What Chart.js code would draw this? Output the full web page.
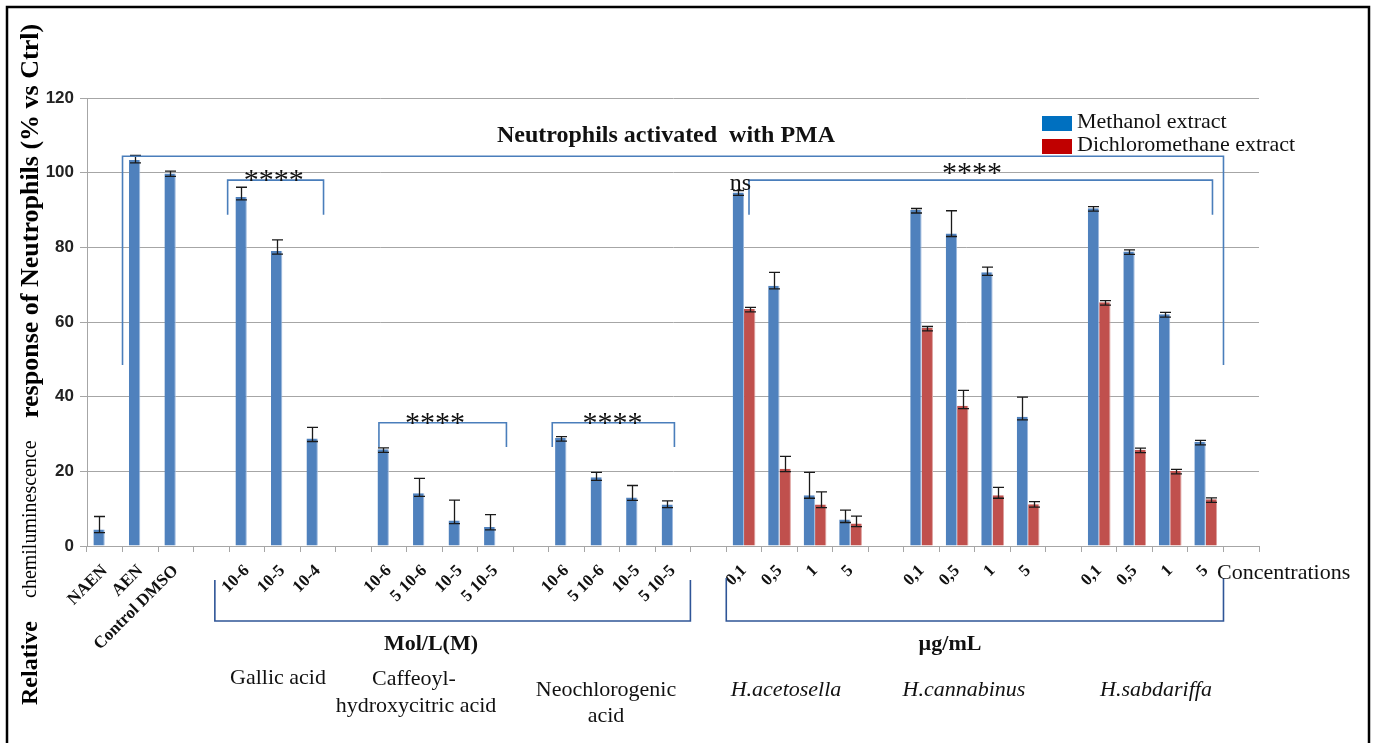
<!DOCTYPE html>
<html>
<head>
<meta charset="utf-8">
<script src="https://cdn.jsdelivr.net/npm/chart.js@4.4.1/dist/chart.umd.min.js"></script>
<style>
  html, body { margin: 0; padding: 0; background: #ffffff; }
  canvas { display: block; }
</style>
</head>
<body>
<canvas id="c" width="1378" height="743"></canvas>
<script>
// ---- Data ----
const categories = [
  'NAEN', 'AEN', 'Control DMSO', '',
  '10-6', '10-5', '10-4', '',
  '10-6', '5 10-6', '10-5', '5 10-5', '',
  '10-6', '5 10-6', '10-5', '5 10-5', '',
  '0,1', '0,5', '1', '5', '',
  '0,1', '0,5', '1', '5', '',
  '0,1', '0,5', '1', '5', ''
];
const methanol = [
  4.4, 103.4, 99.8, null,
  93.5, 79.0, 28.8, null,
  25.9, 14.1, 6.8, 5.1, null,
  28.9, 18.4, 13.0, 11.1, null,
  94.7, 69.7, 13.6, 7.1, null,
  90.0, 83.7, 73.3, 34.6, null,
  90.5, 78.9, 62.1, 27.9, null
];
const methanolErr = [
  3.5, 1.2, 0.6, null,
  2.6, 3.0, 3.0, null,
  0.4, 4.0, 5.5, 3.3, null,
  0.4, 1.3, 3.2, 1.0, null,
  0.5, 3.6, 6.1, 2.5, null,
  0.4, 6.1, 1.4, 5.3, null,
  0.4, 0.4, 0.5, 0.4, null
];
const dichloro = [
  null, null, null, null,
  null, null, null, null,
  null, null, null, null, null,
  null, null, null, null, null,
  63.5, 20.7, 11.1, 6.0, null,
  58.4, 37.6, 13.6, 11.2, null,
  65.3, 25.8, 20.1, 12.5, null
];
const dichloroErr = [
  null, null, null, null,
  null, null, null, null,
  null, null, null, null, null,
  null, null, null, null, null,
  0.4, 3.3, 3.4, 2.0, null,
  0.4, 4.1, 2.1, 0.7, null,
  0.4, 0.4, 0.4, 0.4, null
];
const seriesNames = ['Methanol extract', 'Dichloromethane extract'];
const yMin = 0, yMax = 120, yStep = 20;

// ---- Plugins ----
const serif = '"Liberation Serif", "Times New Roman", serif';

const errorBars = {
  id: 'errorBars',
  afterDatasetsDraw(chart) {
    const ctx = chart.ctx;
    const ys = chart.scales.y;
    const errs = [methanolErr, dichloroErr];
    ctx.save();
    ctx.strokeStyle = '#1a1a1a';
    ctx.lineWidth = 1.3;
    chart.data.datasets.forEach((ds, d) => {
      const meta = chart.getDatasetMeta(d);
      meta.data.forEach((el, i) => {
        const v = ds.data[i];
        const e = errs[d][i];
        if (v == null || e == null) return;
        const x = Math.round(el.x) + 0.5;
        const yv = ys.getPixelForValue(v);
        const yt = ys.getPixelForValue(v + e);
        const yb = yv + 3;
        const hw = 5.5;
        ctx.beginPath();
        ctx.moveTo(x, yb); ctx.lineTo(x, yt);
        ctx.moveTo(x - hw, yt); ctx.lineTo(x + hw, yt);
        ctx.moveTo(x - hw, yb); ctx.lineTo(x + hw, yb);
        ctx.stroke();
      });
    });
    ctx.restore();
  }
};

const annotations = {
  id: 'annotations',
  afterDraw(chart) {
    const ctx = chart.ctx;
    const xs = chart.scales.x, ys = chart.scales.y;
    const X = i => xs.getPixelForValue(i);
    const Y = v => ys.getPixelForValue(v);
    ctx.save();

    const bracket = (i0, i1, vTop, vL, vR) => {
      ctx.beginPath();
      ctx.moveTo(X(i0), Y(vL));
      ctx.lineTo(X(i0), Y(vTop));
      ctx.lineTo(X(i1), Y(vTop));
      ctx.lineTo(X(i1), Y(vR));
      ctx.stroke();
    };
    ctx.strokeStyle = '#4A7EBB';
    ctx.lineWidth = 1.6;
    bracket(0.5, 31.5, 104.4, 48.5, 48.5);
    bracket(3.46, 6.16, 98.0, 88.7, 88.7);
    bracket(7.72, 11.31, 33.0, 26.5, 26.5);
    bracket(12.6, 16.04, 33.0, 26.5, 26.5);
    bracket(18.14, 31.19, 98.0, 88.7, 88.7);

    // stars
    ctx.fillStyle = '#111';
    ctx.font = '30px ' + serif;
    ctx.textAlign = 'center';
    ctx.textBaseline = 'alphabetic';
    const stars = (i, v) => ctx.fillText('****', X(i), Y(v) + 9);
    stars(4.76, 98.0);
    stars(9.3, 33.0);
    stars(14.3, 33.0);
    stars(24.42, 100.0);
    ctx.font = '24px ' + serif;
    ctx.textAlign = 'right';
    ctx.fillText('ns', X(18.14) + 2, Y(95.4));

    // chart title
    ctx.font = 'bold 24px ' + serif;
    ctx.textAlign = 'center';
    ctx.textBaseline = 'middle';
    ctx.fillText('Neutrophils activated  with PMA', 666, 136);

    // legend
    const legendColors = ['#0070C0', '#C00000'];
    ctx.font = '22px ' + serif;
    ctx.textAlign = 'left';
    seriesNames.forEach((n, k) => {
      const y0 = 116 + k * 23;
      ctx.fillStyle = legendColors[k];
      ctx.fillRect(1042, y0, 30, 15);
      ctx.fillStyle = '#111';
      ctx.fillText(n, 1077, y0 + 6);
    });

    // lower brackets (below the axis)
    ctx.strokeStyle = '#2F5597';
    ctx.lineWidth = 1.6;
    const low = (i0, i1, yTop, yBot) => {
      ctx.beginPath();
      ctx.moveTo(X(i0), yTop);
      ctx.lineTo(X(i0), yBot);
      ctx.lineTo(X(i1), yBot);
      ctx.lineTo(X(i1), yTop);
      ctx.stroke();
    };
    low(3.1, 16.49, 580, 621);
    low(17.5, 31.5, 578, 621);

    ctx.fillStyle = '#111';
    ctx.textAlign = 'center';
    ctx.font = 'bold 22px ' + serif;
    ctx.fillText('Mol/L(M)', 431, 644);
    ctx.fillText('\u00B5g/mL', 950, 644);

    ctx.font = '22px ' + serif;
    ctx.fillText('Gallic acid', 278, 678);
    ctx.fillText('Caffeoyl-', 414, 679);
    ctx.fillText('hydroxycitric acid', 416, 706);
    ctx.fillText('Neochlorogenic', 606, 690);
    ctx.fillText('acid', 606, 716);
    ctx.font = 'italic 22px ' + serif;
    ctx.fillText('H.acetosella', 786, 690);
    ctx.fillText('H.cannabinus', 964, 690);
    ctx.fillText('H.sabdariffa', 1156, 690);

    ctx.font = '22px ' + serif;
    ctx.textAlign = 'left';
    ctx.fillText('Concentrations', 1217, 573);

    // y axis title (rotated, mixed styles)
    ctx.save();
    ctx.translate(31, 705);
    ctx.rotate(-Math.PI / 2);
    ctx.textAlign = 'left';
    ctx.textBaseline = 'middle';
    ctx.fillStyle = '#000';
    ctx.font = 'bold 24px ' + serif;
    ctx.fillText('Relative', 0, 0);
    ctx.font = '20px ' + serif;
    ctx.fillText('chemiluminescence', 107, 0);
    ctx.font = 'bold 26px ' + serif;
    ctx.fillText('response of Neutrophils (% vs Ctrl)', 287, 0);
    ctx.restore();

    // outer frame
    ctx.strokeStyle = '#000';
    ctx.lineWidth = 2.5;
    ctx.strokeRect(7, 7, 1362, 745);
    ctx.restore();
  }
};

new Chart(document.getElementById('c'), {
  type: 'bar',
  data: {
    labels: categories,
    datasets: [
      { label: seriesNames[0], data: methanol, backgroundColor: '#4F81BD',
        borderColor: '#9DB9DE', borderWidth: { right: 1, left: 0, top: 0, bottom: 0 } },
      { label: seriesNames[1], data: dichloro, backgroundColor: '#C0504D',
        borderColor: '#DDA09E', borderWidth: { right: 1, left: 0, top: 0, bottom: 0 } }
    ]
  },
  options: {
    responsive: false,
    animation: false,
    events: [],
    layout: { padding: { left: 0, right: 119, top: 98, bottom: 0 } },
    plugins: { legend: { display: false }, tooltip: { enabled: false }, title: { display: false } },
    datasets: { bar: { barPercentage: 1.0, categoryPercentage: 0.64 } },
    scales: {
      x: {
        offset: true,
        grid: { display: true, offset: true, drawOnChartArea: false, drawTicks: true, tickLength: 6, color: '#A6A6A6' },
        border: { display: true, color: '#A6A6A6', width: 1 },
        ticks: {
          autoSkip: false, minRotation: 45, maxRotation: 45, padding: 9,
          color: '#111', font: { family: serif, size: 17, weight: 'bold' }
        },
        afterFit(scale) { scale.height = 197; scale.paddingLeft = 0; scale.paddingRight = 0; }
      },
      y: {
        min: yMin, max: yMax,
        grid: { color: '#A6A6A6', lineWidth: 1, tickLength: 7 },
        border: { display: true, color: '#A6A6A6', width: 1 },
        ticks: {
          stepSize: yStep, padding: 6, color: '#222',
          font: { family: '"Liberation Sans", Arial, sans-serif', size: 17, weight: 'bold' }
        },
        afterFit(scale) { scale.width = 87; scale.paddingTop = 0; scale.paddingBottom = 0; }
      }
    }
  },
  plugins: [errorBars, annotations]
});
</script>
</body>
</html>
